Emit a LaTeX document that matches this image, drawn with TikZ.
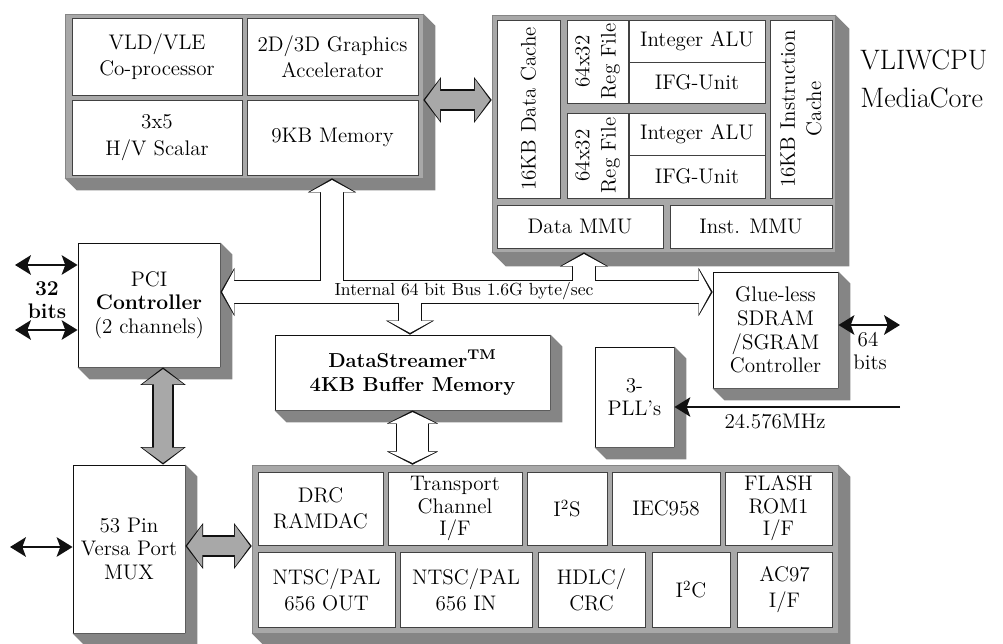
\documentclass[tikz,border=0pt]{standalone}
\usepackage{fontspec}
\usetikzlibrary{arrows.meta,calc,positioning}
\definecolor{Ink}{HTML}{111111}
\definecolor{Dots}{HTML}{A8A8A8}
\definecolor{Shade}{HTML}{858585}
\tikzset{
  cell/.style={
    draw=Ink!80, line width=0.4pt, fill=white, inner sep=0pt,
    align=center, font=\fontsize{12}{15}\selectfont
  },
  tight/.style={font=\fontsize{12}{12.8}\selectfont},
  unit/.style={
    draw=Ink, line width=0.5pt, fill=white, inner sep=0pt,
    align=center, font=\fontsize{12}{13.5}\selectfont
  },
  frame/.style={draw=Shade, line width=0.4pt, fill=Dots, inner sep=0pt},
  tag/.style={inner sep=1pt, font=\fontsize{12}{14}\selectfont},
  busrim/.style={draw=Ink, line width=14.2pt,
    >={Triangle[width=27.5pt,length=8pt,line width=0pt]}},
  busbody/.style={draw=white, line width=13pt, shorten <=1pt, shorten >=1pt,
    >={Triangle[width=25pt,length=6.8pt,line width=0pt]}},
  linkrim/.style={draw=Ink, line width=19.2pt,
    >={Triangle[width=29pt,length=7.5pt,line width=0pt]}},
  linkbody/.style={draw=white, line width=18pt, shorten <=1pt, shorten >=1pt,
    >={Triangle[width=26.5pt,length=6.3pt,line width=0pt]}},
  fatrim/.style={draw=Ink, line width=12pt,
    >={Triangle[width=26pt,length=10pt,line width=0pt]}},
  fatfill/.style={draw=Dots, line width=10.8pt, shorten <=1pt, shorten >=1pt,
    >={Triangle[width=23.6pt,length=8.6pt,line width=0pt]}},
  wire/.style={draw=Ink, line width=1.7pt,
    >={Stealth[length=9pt,width=11pt,inset=2pt]}}
}
% shadow below and right of a node
\newcommand\dropshade[2][12]{%
  \fill[Shade] (#2.north east) -- ++(#1,#1) -- ($(#2.south east)+(#1,#1)$)
    -- ($(#2.south west)+(#1,#1)$) -- (#2.south west) -- (#2.south east) -- cycle;}

\begin{document}
\begin{tikzpicture}[x=0.02cm,y=-0.02cm]
  \useasboundingbox (0,0) rectangle (1003,644);

  % video block
  \node[frame,minimum width=7.16cm,minimum height=3.28cm] (vid) at (244,96) {};
  \dropshade{vid}
  \node[cell,minimum width=3.4cm,minimum height=1.54cm] (vld) at (157,56.5) {VLD/VLE\\Co-processor};
  \node[cell,minimum width=3.42cm,minimum height=1.54cm] (gfx) at (332.5,56.5) {2D/3D Graphics\\Accelerator};
  \node[cell,minimum width=3.4cm,minimum height=1.5cm] (scal) at (157,137.5) {3x5\\H/V Scalar};
  \node[cell,minimum width=3.42cm,minimum height=1.5cm] (mem) at (332.5,137.5) {9KB Memory};

  % cpu core
  \node[frame,minimum width=6.86cm,minimum height=4.74cm] (cpu) at (663.5,133.5) {};
  \dropshade[14]{cpu}
  \node[cell,rotate=90,minimum width=3.56cm,minimum height=1.26cm] (dcache) at (528.5,109) {16KB Data Cache};
  \node[cell,rotate=90,minimum width=1.66cm,minimum height=1.22cm] (rfa) at (597.5,61.5) {64x32\\Reg File};
  \node[cell,minimum width=2.72cm,minimum height=0.84cm] (alua) at (697,41) {Integer ALU};
  \node[cell,minimum width=2.72cm,minimum height=0.82cm] (ifga) at (697,82.5) {IFG-Unit};
  \node[cell,rotate=90,minimum width=1.7cm,minimum height=1.22cm] (rfb) at (597.5,155.5) {64x32\\Reg File};
  \node[cell,minimum width=2.72cm,minimum height=0.84cm] (alub) at (697,134) {Integer ALU};
  \node[cell,minimum width=2.72cm,minimum height=0.86cm] (ifgb) at (697,176.5) {IFG-Unit};
  \node[cell,rotate=90,minimum width=3.56cm,minimum height=1.24cm] (icache) at (801,109) {16KB Instruction\\Cache};
  \node[cell,minimum width=3.32cm,minimum height=0.86cm] (dmmu) at (580,226.5) {Data MMU};
  \node[cell,minimum width=3.24cm,minimum height=0.86cm] (immu) at (751,226.5) {Inst. MMU};
  \node[anchor=west,inner sep=0pt,font=\fontsize{16}{18}\selectfont] (core) at (860,60) {VLIWCPU};
  \node[anchor=west,inner sep=0pt,font=\fontsize{16}{18}\selectfont] (media) at (860,98) {MediaCore};

  % peripheral block
  \node[frame,minimum width=11.72cm,minimum height=3.36cm] (per) at (545,549) {};
  \dropshade{per}
  \node[cell,minimum width=2.5cm,minimum height=1.46cm] (drc) at (320.5,508.5) {DRC\\RAMDAC};
  \node[cell,tight,minimum width=2.68cm,minimum height=1.46cm] (tcif) at (455,508.5) {Transport\\Channel\\I/F};
  \node[cell,minimum width=1.6cm,minimum height=1.46cm] (iis) at (567,508.5) {I\textsuperscript{2}S};
  \node[cell,minimum width=2.16cm,minimum height=1.46cm] (iec) at (666,508.5) {IEC958};
  \node[cell,tight,minimum width=2.14cm,minimum height=1.46cm] (flash) at (778.5,508.5) {FLASH\\ROM1\\I/F};
  \node[cell,minimum width=2.74cm,minimum height=1.5cm] (ntout) at (326.5,589.5) {NTSC/PAL\\656 OUT};
  \node[cell,minimum width=2.64cm,minimum height=1.5cm] (ntin) at (466,589.5) {NTSC/PAL\\656 IN};
  \node[cell,minimum width=2.14cm,minimum height=1.5cm] (hdlc) at (591.5,589.5) {HDLC/\\CRC};
  \node[cell,minimum width=1.56cm,minimum height=1.5cm] (iic) at (691,589.5) {I\textsuperscript{2}C};
  \node[cell,minimum width=1.9cm,minimum height=1.5cm] (ac97) at (784.5,589.5) {AC97\\I/F};

  % single units
  \node[unit,minimum width=2.84cm,minimum height=2.48cm] (pci) at (149,305) {PCI\\\textbf{Controller}\\(2 channels)};
  \dropshade{pci}
  \node[unit,minimum width=2.24cm,minimum height=3.36cm] (mux) at (129,549) {53 Pin\\Versa Port\\MUX};
  \dropshade{mux}
  \node[unit,minimum width=5.5cm,minimum height=1.5cm,font=\fontsize{11.5}{13.5}\selectfont\bfseries] (ds) at (412.5,372.5) {DataStreamer\textsuperscript{TM}\\4KB Buffer Memory};
  \dropshade{ds}
  \node[unit,minimum width=1.58cm,minimum height=2cm] (pll) at (634.5,397) {3-\\PLL's};
  \dropshade{pll}
  \node[unit,minimum width=2.5cm,minimum height=2.32cm] (sdram) at (775.5,330) {Glue-less\\SDRAM\\/SGRAM\\Controller};
  \dropshade{sdram}

  % internal bus
  \coordinate (busL) at (pci.east |- 0,292);
  \coordinate (busR) at (sdram.west |- 0,292);
  \coordinate (tapV) at (332,292);
  \coordinate (tapD) at (410,292);
  \coordinate (tapC) at (584,292);
  \begin{scope}[xshift=2pt,yshift=-2pt]
    \draw[busrim,draw=Shade,<->] (busL) -- (busR);
    \draw[busrim,draw=Shade,->] (tapV) -- (tapV |- vid.south);
    \draw[busrim,draw=Shade,->] (tapC) -- (tapC |- cpu.south);
    \draw[busrim,draw=Shade,->] (tapD) -- (tapD |- ds.north);
  \end{scope}
  \draw[busrim,<->] (busL) -- (busR);
  \draw[busrim,->] (tapV) -- (tapV |- vid.south);
  \draw[busrim,->] (tapC) -- (tapC |- cpu.south);
  \draw[busrim,->] (tapD) -- (tapD |- ds.north);
  \draw[busbody,<->] (busL) -- (busR);
  \draw[busbody,->] (tapV) -- (tapV |- vid.south);
  \draw[busbody,->] (tapC) -- (tapC |- cpu.south);
  \draw[busbody,->] (tapD) -- (tapD |- ds.north);
  \node[inner sep=0pt,font=\fontsize{10}{12}\selectfont] (busname) at (464,291) {Internal 64 bit Bus 1.6G byte/sec};

  % buffer to peripherals
  \draw[linkrim,draw=Shade,<->,xshift=2pt,yshift=-2pt] (ds.south) -- (ds.south |- per.north);
  \draw[linkrim,<->] (ds.south) -- (ds.south |- per.north);
  \draw[linkbody,<->] (ds.south) -- (ds.south |- per.north);

  % shaded links
  \draw[fatrim,<->] (vid.east |- 0,100) -- (cpu.west |- 0,100);
  \draw[fatfill,<->] (vid.east |- 0,100) -- (cpu.west |- 0,100);
  \draw[fatrim,<->] ([xshift=0.28cm]pci.south) -- ([xshift=0.28cm]pci.south |- mux.north);
  \draw[fatfill,<->] ([xshift=0.28cm]pci.south) -- ([xshift=0.28cm]pci.south |- mux.north);
  \draw[fatrim,<->] (mux.east |- 0,546) -- (per.west |- 0,546);
  \draw[fatfill,<->] (mux.east |- 0,546) -- (per.west |- 0,546);

  % external pins
  \coordinate (pinA) at (15,265);
  \coordinate (pinB) at (15,330);
  \coordinate (pinM) at (10,547);
  \coordinate (pinS) at (900,325);
  \coordinate (clk) at (900,407);
  \draw[wire,<->] (pinA) -- (pinA -| pci.west);
  \draw[wire,<->] (pinB) -- (pinB -| pci.west);
  \draw[wire,<->] (pinM) -- (pinM -| mux.west);
  \draw[wire,<->] (pinS -| sdram.east) -- (pinS);
  \draw[wire,line width=1.2pt,->] (clk) -- (clk -| pll.east);
  \node[tag,font=\fontsize{12}{14}\selectfont\bfseries] (w32) at (47,289) {32};
  \node[tag,font=\fontsize{12}{14}\selectfont\bfseries] (b32) at (47,311) {bits};
  \node[tag] (w64) at (868,340) {64};
  \node[tag] (b64) at (870,362) {bits};
  \node[tag] (freq) at (775,422) {24.576MHz};
\end{tikzpicture}
\end{document}
